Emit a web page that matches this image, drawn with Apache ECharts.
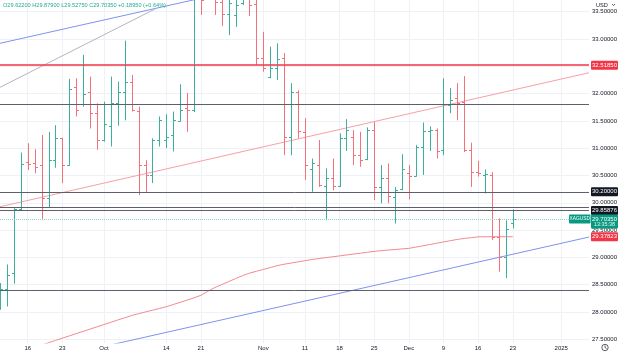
<!DOCTYPE html>
<html><head><meta charset="utf-8">
<script src="https://cdn.jsdelivr.net/npm/echarts@6/dist/echarts.min.js"></script>
<style>html,body{margin:0;padding:0;background:#fff}#c{width:620px;height:357px}</style>
</head><body><div id="c"></div>
<script>
// ---- categories (daily trading sessions + future time scale) ----
const dates = [
 '2024-09-10','2024-09-11','2024-09-12','2024-09-13','2024-09-16','2024-09-17','2024-09-18','2024-09-19','2024-09-20',
 '2024-09-23','2024-09-24','2024-09-25','2024-09-26','2024-09-27','2024-09-30',
 '2024-10-01','2024-10-02','2024-10-03','2024-10-04','2024-10-07','2024-10-08','2024-10-09','2024-10-10','2024-10-11',
 '2024-10-14','2024-10-15','2024-10-16','2024-10-17','2024-10-18','2024-10-21','2024-10-22','2024-10-23','2024-10-24',
 '2024-10-25','2024-10-28','2024-10-29','2024-10-30','2024-10-31',
 '2024-11-01','2024-11-04','2024-11-05','2024-11-06','2024-11-07','2024-11-08','2024-11-11','2024-11-12','2024-11-13',
 '2024-11-14','2024-11-15','2024-11-18','2024-11-19','2024-11-20','2024-11-21','2024-11-22','2024-11-25','2024-11-26',
 '2024-11-27','2024-11-28','2024-11-29',
 '2024-12-02','2024-12-03','2024-12-04','2024-12-05','2024-12-06','2024-12-09','2024-12-10','2024-12-11','2024-12-12',
 '2024-12-13','2024-12-16','2024-12-17','2024-12-18','2024-12-19','2024-12-20','2024-12-23',
 '2024-12-24','2024-12-25','2024-12-26','2024-12-27','2024-12-30','2024-12-31',
 '2025-01-01','2025-01-02','2025-01-03','2025-01-06','2025-01-07'
];
// ---- OHLC values (Sep 10 .. Dec 23) ----
const opens = [28.30,28.42,28.71,29.88,30.74,30.72,30.70,30.08,30.78,31.18,30.70,32.12,31.80,32.03,31.64,
 31.15,31.40,31.82,32.03,32.21,31.68,30.69,30.50,31.15,31.15,31.24,31.50,31.73,31.70,33.80,33.78,34.40,33.68,
 33.45,33.44,33.65,33.80,33.64,32.66,32.31,32.46,32.66,31.20,32.03,31.30,30.62,30.69,30.30,30.45,30.31,31.19,
 31.20,30.87,30.80,31.33,30.29,30.45,30.11,30.25,30.55,30.49,31.03,31.32,31.33,30.97,31.79,31.92,31.85,30.97,
 30.57,30.50,30.51,29.38,29.01,29.622];
const highs = [28.53,28.87,29.90,30.92,31.09,30.98,31.24,31.30,31.42,31.19,32.27,32.28,32.71,32.31,31.82,
 31.85,32.31,32.22,32.97,32.34,31.76,30.78,31.18,31.58,31.62,31.67,32.17,32.01,33.85,34.30,34.60,34.50,33.80,
 33.80,33.78,34.00,34.10,33.78,33.13,32.86,32.92,32.74,32.19,32.06,31.55,30.81,31.15,30.63,30.81,31.27,31.53,
 31.33,31.30,31.38,31.48,30.69,30.72,30.29,30.89,30.69,31.06,31.47,31.40,31.36,32.28,32.10,32.19,32.32,31.10,
 30.77,30.61,30.56,29.715,29.68,29.879];
const lows = [28.04,28.10,28.52,29.86,30.60,30.54,29.70,29.92,30.64,30.36,30.68,31.58,31.76,31.36,30.97,
 31.12,31.03,31.41,31.51,31.67,30.14,30.20,30.36,31.03,31.00,30.94,31.49,31.30,31.66,33.44,33.74,33.44,33.24,
 33.07,33.22,33.62,33.42,32.52,32.40,32.28,32.25,30.87,30.87,31.18,30.42,30.20,30.29,29.68,30.23,30.29,30.95,
 30.69,30.66,30.78,30.05,29.99,29.99,29.62,30.23,30.06,30.48,30.51,30.95,30.81,30.87,31.64,31.51,30.93,30.29,
 30.48,30.17,29.32,28.74,28.62,29.5275];
const closes = [28.42,28.68,29.88,30.71,30.71,30.66,30.08,30.78,31.18,30.70,32.08,31.70,32.00,31.64,31.15,
 31.44,31.82,32.03,32.22,31.69,30.69,30.50,31.15,31.52,31.21,31.51,31.70,31.70,33.75,33.72,34.40,33.68,33.45,
 33.65,33.62,33.80,33.62,32.66,32.46,32.46,32.64,31.21,32.03,31.32,30.69,30.72,30.32,30.45,30.31,31.18,31.33,
 30.87,30.78,31.33,30.29,30.45,30.12,30.23,30.61,30.49,31.03,31.32,31.33,30.95,31.81,31.88,31.82,30.97,30.57,
 30.54,30.53,29.38,29.01,29.514,29.7035];
// ---- moving average ----
const maValues = [27.144,27.186,27.228,27.270,27.311,27.353,27.395,27.437,27.479,27.521,
 27.562,27.604,27.645,27.687,27.728,27.770,27.811,27.853,27.894,27.936,
 27.969,28.001,28.032,28.064,28.096,28.136,28.177,28.218,28.259,28.306,
 28.379,28.448,28.502,28.557,28.611,28.665,28.711,28.745,28.779,28.813,
 28.848,28.874,28.896,28.917,28.939,28.961,28.978,28.995,29.011,29.027,
 29.044,29.060,29.076,29.093,29.109,29.124,29.134,29.144,29.155,29.165,
 29.187,29.211,29.235,29.258,29.282,29.306,29.329,29.346,29.361,29.376,
 29.378,29.378,29.378,29.378,29.378];
// ---- tick labels ----
const tickDates = ['2024-09-16','2024-09-23','2024-10-01','2024-10-14','2024-10-21','2024-11-01','2024-11-11',
 '2024-11-18','2024-11-25','2024-12-02','2024-12-09','2024-12-16','2024-12-23','2025-01-01'];
const tickTexts = ['16','23','Oct','14','21','Nov','11','18','25','Dec','9','16','23','2025'];
const yTicks = [27.5,28,28.5,29,29.5,30,30.5,31,31.5,32,32.5,33,33.5];
// ---- drawn levels & trend lines (bar index from Sep 10, price) ----
const grayLevels = [31.80, 30.20, 29.92, 29.85876, 28.40];
const redLevel = 32.5185;
const trendRed = [[0, 29.927], [85, 32.381]];
const trendBlueLow = [[0, 26.94], [85, 29.372]];
const trendBlueHigh = [[0, 32.92], [85, 35.34]];
const trendGray = [[0, 32.114], [22.6, 33.563]];
const priceTags = [
 {price: 32.5185, text: '32.51850', bg: '#f23645'},
 {price: 30.20, text: '30.20000', bg: '#131722'},
 {price: 29.85876, text: '29.85876', bg: '#131722'},
 {price: 29.37823, text: '29.37823', bg: '#f23645'},
 {price: 29.7035, text: '29.70350', sub: '13:35:38', bg: '#089981'}
];

const FONT = '"Liberation Sans", Arial, sans-serif';
const GREEN = '#3cb09c', RED = '#f2717a';
const last = opens.length - 1;
const ohlc = opens.map((o, i) => [i, o, closes[i], lows[i], highs[i]]);
const isTick = (i, v) => tickDates.indexOf(v) >= 0;

const chart = echarts.init(document.getElementById('c'));
chart.setOption({
  animation: false,
  grid: {left: 0, right: 30, top: 0, bottom: 14},
  xAxis: [{
    type: 'category', data: dates, boundaryGap: false,
    axisLine: {show: false}, axisTick: {show: false},
    axisLabel: {interval: isTick, formatter: v => tickTexts[tickDates.indexOf(v)],
      fontSize: 6, color: '#131722', margin: 2, fontFamily: FONT},
    splitLine: {show: true, interval: isTick, lineStyle: {color: '#eef1f6', width: 1}}
  }, {
    type: 'value', min: 0, max: dates.length - 1, show: false
  }],
  yAxis: {
    type: 'value', position: 'right', min: 27.432, max: 33.713,
    axisLine: {show: false},
    axisTick: {show: false, customValues: yTicks},
    axisLabel: {customValues: yTicks, formatter: v => v.toFixed(5), fontSize: 6, color: '#131722',
      margin: 3, fontFamily: FONT},
    splitLine: {show: true, lineStyle: {color: '#eef1f6', width: 1}}
  },
  series: [
    {type: 'line', xAxisIndex: 1, data: trendBlueHigh, symbol: 'none', silent: true,
      lineStyle: {color: '#7f93ee', width: 1}, z: 1},
    {type: 'line', xAxisIndex: 1, data: trendBlueLow, symbol: 'none', silent: true,
      lineStyle: {color: '#7f93ee', width: 1}, z: 1},
    {type: 'line', xAxisIndex: 1, data: trendGray, symbol: 'none', silent: true,
      lineStyle: {color: '#b2b5be', width: 1}, z: 1},
    {type: 'line', xAxisIndex: 1, data: trendRed, symbol: 'none', silent: true,
      lineStyle: {color: '#f6a0a6', width: 1}, z: 1},
    {type: 'line', data: maValues, symbol: 'none', silent: true,
      lineStyle: {color: '#f28a91', width: 1}, z: 2,
      markLine: {silent: true, symbol: 'none', label: {show: false}, animation: false,
        data: grayLevels.map(p => ({yAxis: p, lineStyle: {color: '#5d606b', width: 1, type: 'solid'}}))
          .concat([{yAxis: redLevel, lineStyle: {color: '#f23645', width: 1.5, type: 'solid'}},
                   {yAxis: closes[last], lineStyle: {color: '#8fd3c7', width: 1, type: 'dotted'}}])}
    },
    {type: 'custom', data: ohlc, clip: true, z: 3, encode: {x: 0, y: [1, 2, 3, 4]},
      renderItem: function (params, api) {
        const k = api.value(0);
        const o = api.coord([k, api.value(1)]);
        const c = api.coord([k, api.value(2)]);
        const l = api.coord([k, api.value(3)]);
        const h = api.coord([k, api.value(4)]);
        const color = api.value(2) >= api.value(1) ? GREEN : RED;
        const x = Math.round(o[0]) + 0.5;
        const t = 2.5;
        const st = {stroke: color, lineWidth: 1};
        return {type: 'group', children: [
          {type: 'line', shape: {x1: x, y1: h[1], x2: x, y2: l[1]}, style: st},
          {type: 'line', shape: {x1: x - t, y1: Math.round(o[1]) + 0.5, x2: x, y2: Math.round(o[1]) + 0.5}, style: st},
          {type: 'line', shape: {x1: x, y1: Math.round(c[1]) + 0.5, x2: x + t, y2: Math.round(c[1]) + 0.5}, style: st}
        ]};
      }
    }
  ]
});

// ---- overlay texts and price tags positioned through the axis ----
const prevClose = closes[last - 1];
const chg = closes[last] - prevClose;
const header = 'O' + opens[last].toFixed(5) + ' H' + highs[last].toFixed(5) + ' L' + lows[last].toFixed(5) +
  ' C' + closes[last].toFixed(5) + ' +' + chg.toFixed(5) + ' (+' + (chg / prevClose * 100).toFixed(2) + '%)';
const g = [
  {type: 'text', z: 100, x: 3, y: 5, style: {text: header, fill: '#22ab94', font: '5.6px ' + FONT, verticalAlign: 'middle'}},
  {type: 'rect', z: 99, shape: {x: 590, y: 0, width: 30, height: 9}, style: {fill: '#fff'}},
  {type: 'text', z: 100, x: 596, y: 5, style: {text: 'USD', fill: '#131722', font: '5.6px ' + FONT, verticalAlign: 'middle'}},
  {type: 'polyline', z: 100, shape: {points: [[612, 4], [613.5, 5.5], [615, 4]]}, style: {stroke: '#131722', lineWidth: 0.7, fill: null}},
  {type: 'circle', z: 100, shape: {cx: 605, cy: 347.5, r: 3.2}, style: {stroke: '#131722', lineWidth: 0.7, fill: null}},
  {type: 'polyline', z: 100, shape: {points: [[605, 345.5], [605, 347.5], [606.5, 348.5]]}, style: {stroke: '#131722', lineWidth: 0.7, fill: null}}
];
priceTags.forEach(t => {
  const y = chart.convertToPixel({yAxisIndex: 0}, t.price);
  const hgt = t.sub ? 14 : 9;
  g.push({type: 'rect', z: 100, shape: {x: 591, y: y - 4.5, width: 27, height: hgt, r: 1}, style: {fill: t.bg}});
  g.push({type: 'text', z: 101, x: 604.5, y: y, style: {text: t.text, fill: '#fff', font: '6px ' + FONT, align: 'center', verticalAlign: 'middle'}});
  if (t.sub) {
    g.push({type: 'text', z: 101, x: 604.5, y: y + 5.8, style: {text: t.sub, fill: '#e8f6f3', font: '5.4px ' + FONT, align: 'center', verticalAlign: 'middle'}});
    g.push({type: 'rect', z: 100, shape: {x: 569, y: y - 4.5, width: 21.5, height: 9, r: 1}, style: {fill: t.bg}});
    g.push({type: 'text', z: 101, x: 579.75, y: y, style: {text: 'XAGUSD', fill: '#fff', font: '4.8px ' + FONT, align: 'center', verticalAlign: 'middle'}});
  }
});
chart.setOption({graphic: g});
</script>
</body></html>
